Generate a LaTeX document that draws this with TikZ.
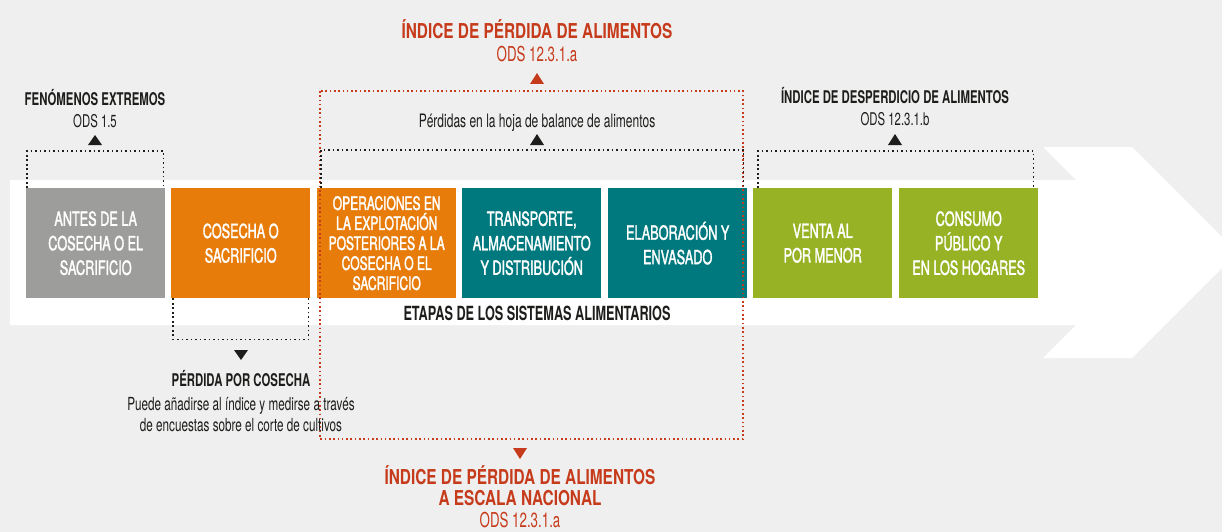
\documentclass[tikz,border=0pt]{standalone}
\usepackage{fontspec}
\setmainfont{TeX Gyre Heros}
\newfontfamily\fA[FakeStretch=0.65]{TeX Gyre Heros}
\newfontfamily\fB[FakeStretch=0.65, FakeBold=1.6]{TeX Gyre Heros}
\newfontfamily\fR[FakeStretch=0.75]{TeX Gyre Heros}
\definecolor{cbg}{HTML}{EFEFEF}
\definecolor{cgray}{HTML}{9D9D9C}
\definecolor{corange}{HTML}{E77C0A}
\definecolor{cteal}{HTML}{00797E}
\definecolor{cgreen}{HTML}{97B225}
\definecolor{cred}{HTML}{C63B1B}
\definecolor{cdark}{HTML}{1D1D1B}
\tikzset{
  stage/.style={anchor=north west, minimum width=139pt, minimum height=110pt, inner sep=0pt,
    text=white, align=center, font=\fB\fontsize{19.5}{24.5}\selectfont},
  lbl/.style={anchor=base, inner sep=0pt, text=cdark, font=\fA\fontsize{17.5}{21}\selectfont},
  lblb/.style={lbl, font=\fA\bfseries\fontsize{17.5}{21}\selectfont},
  redb/.style={anchor=base, inner sep=0pt, text=cred, font=\fR\bfseries\fontsize{20.5}{24}\selectfont},
  redr/.style={anchor=base, inner sep=0pt, text=cred, font=\fA\fontsize{20.5}{24}\selectfont},
  dotk/.style={draw=cdark, line width=1.7pt, dash pattern=on 1.7pt off 2.8pt},
  dotr/.style={draw=cred, line width=1.6pt, dash pattern=on 1.6pt off 2.7pt}
}
\begin{document}
\begin{tikzpicture}[x=1pt,y=-1pt]
\useasboundingbox (0,0) rectangle (1222,532);
\fill[cbg] (0,0) rectangle (1222,532);
% white arrow band
\fill[white] (10,180) -- (1076,180) -- (1043,147) -- (1132,147) -- (1237.5,252.5)
  -- (1132,358) -- (1043,358) -- (1076,325) -- (10,325) -- cycle;

% stages
\node[stage, fill=cgray] (b1) at (26,188) {ANTES DE LA\\COSECHA O EL\\SACRIFICIO};
\node[stage, fill=corange] (b2) at (171,188) {COSECHA O\\SACRIFICIO};
\node[stage, fill=corange, font=\fB\fontsize{18.5}{20}\selectfont] (b3) at (317,188)
  {OPERACIONES EN\\LA EXPLOTACIÓN\\POSTERIORES A LA\\COSECHA O EL\\SACRIFICIO};
\node[stage, fill=cteal] (b4) at (462,188) {TRANSPORTE,\\ALMACENAMIENTO\\Y DISTRIBUCIÓN};
\node[stage, fill=cteal] (b5) at (608,188) {ELABORACIÓN Y\\ENVASADO};
\node[stage, fill=cgreen] (b6) at (753,188) {VENTA AL\\POR MENOR};
\node[stage, fill=cgreen] (b7) at (899,188) {CONSUMO\\PÚBLICO Y\\EN LOS HOGARES};

\node[lblb, font=\fA\bfseries\fontsize{19.5}{23}\selectfont] (etapas) at (537,320)
  {ETAPAS DE LOS SISTEMAS ALIMENTARIOS};

% red frame
\draw[dotr] (320,91) rectangle (743,439);

% brackets
\draw[dotk] ([xshift=1pt]b1.north west) -- ++(0,-37) -| ([xshift=-2pt]b1.north east);
\draw[dotk] ([xshift=4pt]b3.north west) -- ++(0,-38) -| ([xshift=-4pt]b5.north east);
\draw[dotk] ([xshift=5pt]b6.north west) -- ++(0,-37) -| ([xshift=-5pt]b7.north east);
\draw[dotk] ([xshift=2pt]b2.south west) -- ++(0,41) -| ([xshift=-2pt]b2.south east);

% extreme events
\node[lblb] (fen) at (95,106) {FENÓMENOS EXTREMOS};
\node[lbl] (fenods) at (95,128) {ODS 1.5};
\fill[cdark] (95,135) -- (102,145) -- (88,145) -- cycle;

% food loss index (top)
\node[redb] (pt) at (537,39) {ÍNDICE DE PÉRDIDA DE ALIMENTOS};
\node[redr] (ptods) at (537,62) {ODS 12.3.1.a};
\fill[cred] (537,73) -- (544,84) -- (530,84) -- cycle;
\node[lbl, font=\fA\fontsize{18.5}{22}\selectfont] (hoja) at (537,128) {Pérdidas en la hoja de balance de alimentos};
\fill[cdark] (537,134) -- (544,145) -- (530,145) -- cycle;

% food waste index
\node[lblb] (desp) at (895,103) {ÍNDICE DE DESPERDICIO DE ALIMENTOS};
\node[lbl] (despods) at (895,125) {ODS 12.3.1.b};
\fill[cdark] (895,134) -- (902,145) -- (888,145) -- cycle;

% harvest loss
\fill[cdark] (241,360) -- (248,350) -- (234,350) -- cycle;
\node[lblb] (cos) at (241,386) {PÉRDIDA POR COSECHA};
\node[lbl, font=\fA\fontsize{18}{21}\selectfont] (cos2) at (241,410) {Puede añadirse al índice y medirse a través};
\node[lbl, font=\fA\fontsize{18}{21}\selectfont] (cos3) at (241,431) {de encuestas sobre el corte de cultivos};

% national food loss index (bottom)
\fill[cred] (520,459) -- (527,448) -- (513,448) -- cycle;
\node[redb] (pb1) at (520,484) {ÍNDICE DE PÉRDIDA DE ALIMENTOS};
\node[redb] (pb2) at (520,505) {A ESCALA NACIONAL};
\node[redr] (pb3) at (520,527) {ODS 12.3.1.a};
\end{tikzpicture}
\end{document}
